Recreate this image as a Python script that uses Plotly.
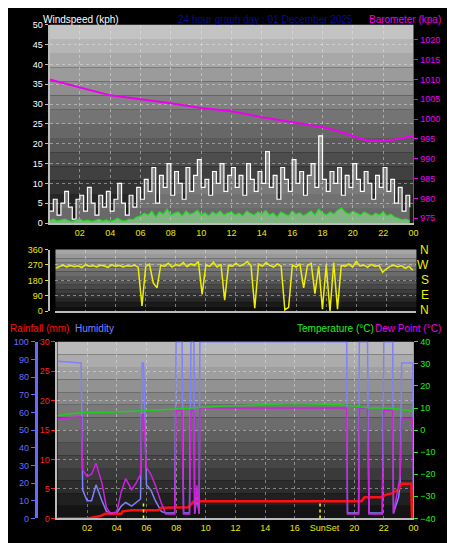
import plotly.graph_objects as go

# --- data ---
# wind, 15 minute slots (hours 0..23.75)
gust = [3, 6, 2, 5, 8, 4, 1, 6, 7, 3, 9, 5, 2, 7, 4, 8, 3, 6, 10, 5, 2, 7, 4, 9,
        6, 11, 8, 14, 5, 12, 9, 15, 7, 13, 10, 6, 14, 8, 12, 16, 9, 11, 7, 13, 10, 15, 8, 12,
        14, 9, 12, 7, 15, 11, 8, 13, 10, 18, 9, 12, 6, 14, 11, 8, 16, 10, 13, 7, 12, 15, 9, 22,
        11, 8, 13, 10, 14, 7, 12, 9, 15, 11, 8, 13, 10, 6, 12, 9, 14, 8, 11, 5, 9, 3, 7, 4]
wind_avg = [0.5, 1, 0.5, 0.8, 1, 0.6, 0.3, 0.8, 1, 0.5, 0.7, 0.4, 0.6, 1, 0.5, 0.8, 0.4, 0.7, 1.2, 0.6, 0.5, 1, 0.8, 1.5,
            1.8, 2.5, 2, 3, 1.5, 2.8, 2.2, 3.5, 2, 2.5, 2.8, 1.8, 3, 2.2, 2.5, 3.2, 2, 2.6, 1.8, 2.8, 2.2, 3, 2, 2.5,
            2.8, 2, 2.5, 1.8, 3, 2.4, 2, 2.8, 2.2, 3.2, 2, 2.5, 1.5, 2.8, 2.2, 1.8, 3, 2.2, 2.6, 1.8, 2.4, 3, 2, 3.5,
            2.6, 2, 2.8, 2.2, 3.2, 3.8, 2.8, 2.2, 3, 2.4, 2, 2.8, 2.2, 1.8, 2.5, 2, 2.8, 1.8, 2.2, 1.5, 1.2, 0.8, 1, 0.6]
wind_dir = [250, 262, 270, 258, 268, 260, 265, 255, 272, 262, 266, 258, 270, 264, 256, 272, 262, 268, 258, 266, 262, 270, 256, 32,
            262, 275, 165, 137, 270, 262, 280, 258, 272, 266, 284, 260, 276, 268, 290, 99, 270, 262, 286, 258, 274, 65, 268, 262,
            280, 264, 272, 290, 266, 19, 276, 262, 284, 268, 258, 276, 264, 8, 23, 270, 258, 276, 137, 266, 280, 103, 262, 13,
            270, 0, 284, 13, 268, 262, 276, 258, 290, 264, 270, 256, 274, 262, 268, 228, 248, 262, 270, 258, 266, 250, 262, 240]
slot_hours = [i * 0.25 for i in range(96)]

baro_t = [0, 2, 4, 6, 8, 10, 12, 14, 16, 18, 19, 20, 21, 22, 23, 24]
baro = [1010, 1008, 1006, 1005, 1004, 1002.8, 1002, 1000.5, 999.3, 998, 997, 995.7, 994.5, 994.5, 995, 995.8]

hum_t = [0, 1.5, 1.6, 1.7, 2.0, 2.3, 2.6, 3.0, 3.3, 3.6, 4.0, 4.3, 4.6, 5.0, 5.3, 5.6, 5.7, 5.8, 6.0, 6.3,
         6.6, 7.0, 7.3, 7.9, 8.0, 8.4, 8.5, 8.9, 9.0, 9.2, 9.25, 9.4, 9.55, 9.6, 19.5, 19.55, 20.3, 20.35,
         20.9, 21.0, 21.9, 22.0, 22.6, 22.65, 23.0, 23.1, 23.2, 23.95, 24]
humidity = [89, 88, 88, 16, 10, 10, 19, 10, 4, 3, 3, 7, 9, 7, 9, 11, 88, 88, 19, 16,
            10, 4, 3, 3, 100, 100, 3, 3, 100, 100, 3, 12, 3, 100, 100, 3, 3, 100,
            100, 3, 3, 100, 100, 3, 12, 20, 88, 88, 10]
dewpoint = [5, 6, 6, -18, -21, -20, -15, -24, -35, -38, -37, -28, -22, -27, -24, -20, 7, 7, -17, -20,
            -25, -33, -38, -38, 9, 9, -38, -38, 9, 9, -38, -25, -38, 10, 10, -38, -38, 10,
            10, -38, -38, 9, 9, -38, -26, -21, 5, 5, -28]

temp_t = list(range(25))
temperature = [6.5, 7.5, 8, 8, 8.2, 8.5, 8.8, 9, 9.5, 10, 10.5, 10.8, 11, 11.3, 11.5, 11.8, 12, 11.8,
               11.8, 11.5, 11, 10, 10, 9.5, 8.5]

rain_t = [0, 2, 2.9, 3.2, 4.3, 4.4, 5.0, 6.8, 7.0, 8.8, 9.2, 20.5, 20.7, 21.9, 22.1, 22.6, 23.0, 23.2, 23.85, 23.9]
rainfall = [0, 0, 0.4, 0.8, 0.8, 1.2, 1.4, 1.4, 1.8, 1.9, 2.9, 2.9, 3.6, 3.6, 4.0, 4.3, 5.0, 5.9, 5.9, 0]

sun_times = [5.8, 17.7]
hour_ticks = list(range(2, 25, 2))
hour_labels = ["02", "04", "06", "08", "10", "12", "14", "16", "18", "20", "22", "00"]
hour_labels_sun = ["02", "04", "06", "08", "10", "12", "14", "16", "SunSet", "20", "22", "00"]

FONT = "Liberation Sans, Arial, sans-serif"
W, H = 455, 537


def fx(px):
    return px / W


def fy(py):
    return 1 - py / H


fig = go.Figure()

# top panel
fig.add_trace(go.Scatter(x=slot_hours, y=gust, mode="lines", line=dict(color="white", width=1.2, shape="hv"),
                         fill="tozeroy", fillcolor="rgba(255,255,255,0.35)", xaxis="x", yaxis="y"))
fig.add_trace(go.Scatter(x=slot_hours, y=wind_avg, mode="lines", line=dict(color="#22dd22", width=1.2),
                         fill="tozeroy", fillcolor="rgba(150,230,150,0.6)", xaxis="x", yaxis="y"))
fig.add_trace(go.Scatter(x=baro_t, y=baro, mode="lines", line=dict(color="#ee00ee", width=2), xaxis="x", yaxis="y2"))

# middle panel
fig.add_trace(go.Scatter(x=slot_hours, y=wind_dir, mode="lines", line=dict(color="#eeee00", width=1.5),
                         xaxis="x2", yaxis="y3"))

# bottom panel
fig.add_trace(go.Scatter(x=hum_t, y=humidity, mode="lines", line=dict(color="#8080ff", width=1.5), xaxis="x3", yaxis="y4"))
fig.add_trace(go.Scatter(x=hum_t, y=dewpoint, mode="lines", line=dict(color="#cc22dd", width=1.5), xaxis="x3", yaxis="y6"))
fig.add_trace(go.Scatter(x=temp_t, y=temperature, mode="lines", line=dict(color="#22cc22", width=1.5), xaxis="x3", yaxis="y6"))
fig.add_trace(go.Scatter(x=rain_t, y=rainfall, mode="lines", line=dict(color="#ff1010", width=2.5), xaxis="x3", yaxis="y5"))

shapes = []
# gradient backgrounds
for xr, yr, top, bot in [("x", "y", 195, 25), ("x2", "y3", 165, 15), ("x3", "y4", 185, 20)]:
    n = 14
    for i in range(n):
        g = int(top + (bot - top) * i / (n - 1))
        shapes.append(dict(type="rect", xref=xr + " domain", yref=yr + " domain", x0=0, x1=1,
                           y0=1 - (i + 1) / n, y1=1 - i / n, fillcolor=f"rgb({g},{g},{g})",
                           line=dict(width=0), layer="below"))
for t in sun_times:
    shapes.append(dict(type="line", xref="x3", yref="y5", x0=t, x1=t, y0=0, y1=3,
                       line=dict(color="#ffff00", width=1.5, dash="dot")))

grid = dict(showgrid=True, gridcolor="rgba(235,235,235,0.45)", griddash="dot", gridwidth=1, zeroline=False)
xcommon = dict(range=[0, 24], tickvals=hour_ticks, tickfont=dict(color="#e8e800", size=9, family=FONT),
               showline=True, linecolor="#bbbbbb", linewidth=2, ticks="", **grid)

fig.update_layout(
    width=W, height=H, margin=dict(l=0, r=0, t=0, b=0),
    paper_bgcolor="black", plot_bgcolor="black", showlegend=False,
    font=dict(family=FONT, size=9),
    shapes=shapes,
    xaxis=dict(domain=[fx(42), fx(410)], anchor="y", ticktext=hour_labels, **xcommon),
    yaxis=dict(domain=[fy(214), fy(12)], range=[0, 50], dtick=5, tickfont=dict(color="white", size=9),
               ticks="outside", tickcolor="#bbbbbb", ticklen=3, showline=True, linecolor="#bbbbbb", linewidth=2, **grid),
    yaxis2=dict(overlaying="y", side="right", anchor="x", range=[973.8, 1023.8], tickvals=list(range(975, 1021, 5)),
                tickfont=dict(color="#ee00ee", size=9), ticks="outside", tickcolor="#ee00ee", ticklen=4,
                showline=True, linecolor="#ee00ee", showgrid=False, zeroline=False),
    xaxis2=dict(domain=[fx(48), fx(413)], anchor="y3", ticktext=hour_labels, showticklabels=False, **xcommon),
    yaxis3=dict(domain=[fy(304), fy(241)], range=[0, 360], tickvals=[0, 90, 180, 270, 360],
                tickfont=dict(color="#e8e800", size=9), ticks="outside", tickcolor="#e8e800", ticklen=3,
                showline=True, linecolor="#bbbbbb", linewidth=2, **grid),
    xaxis3=dict(domain=[fx(50), fx(410)], anchor="y5", ticktext=hour_labels_sun, **xcommon),
    yaxis4=dict(domain=[fy(515), fy(335)], range=[0, 100], dtick=10, anchor="free", position=fx(28),
                tickfont=dict(color="#6a6aff", size=9), ticks="outside", tickcolor="#6a6aff", ticklen=4,
                showline=True, linecolor="#6a6aff", linewidth=3, showgrid=False, zeroline=False),
    yaxis5=dict(overlaying="y4", anchor="x3", range=[0, 30], dtick=5, tickfont=dict(color="#ff2020", size=9),
                ticks="outside", tickcolor="#ff2020", ticklen=4, showline=True, linecolor="#bbbbbb", linewidth=2, **grid),
    yaxis6=dict(overlaying="y4", side="right", anchor="x3", range=[-40, 40], dtick=10,
                tickfont=dict(color="#22ee22", size=9), ticks="outside", tickcolor="#22ee22", ticklen=4,
                showline=True, linecolor="#22ee22", showgrid=False, zeroline=False),
)

ann = [
    ("Windspeed (kph)", 33, 7, "white", "left"),
    ("24 hour graph day : 01 December 2025", 170, 7, "#0a0a90", "left"),
    ("Barometer (kpa)", 440, 7, "#ee00ee", "right"),
    ("Rainfall (mm)", 0, 321, "#ff1010", "left"),
    ("Humidity", 66, 321, "#8080ff", "left"),
    ("Temperature (°C)", 372, 321, "#22ee22", "right"),
    ("Dew Point (°C)", 440, 321, "#ee00ee", "right"),
]
for text, px, py, col, al in ann:
    fig.add_annotation(text=text, x=fx(px), y=fy(py), xref="paper", yref="paper", showarrow=False,
                       xanchor=al, yanchor="middle", font=dict(color=col, size=10, family=FONT))
for i, letter in enumerate(["N", "W", "S", "E", "N"]):
    fig.add_annotation(text=letter, x=fx(428), y=fy(241 + i * 15.5), xref="paper", yref="paper",
                       showarrow=False, font=dict(color="#eeee00", size=12, family=FONT))

fig.write_html("out.html")
